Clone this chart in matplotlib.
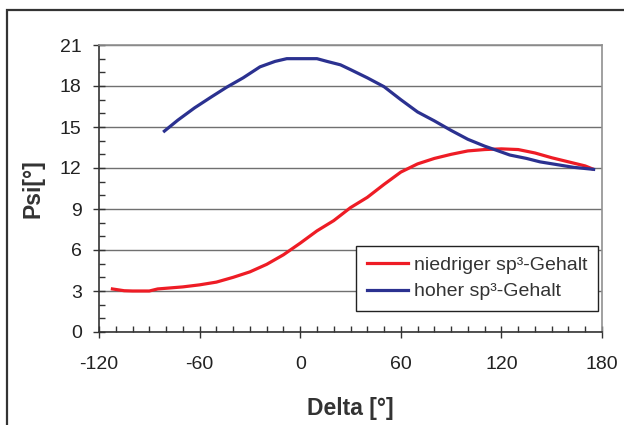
import matplotlib
matplotlib.use("Agg")
import matplotlib.pyplot as plt
from matplotlib.patches import Rectangle
from matplotlib.ticker import MultipleLocator

plt.rcParams['font.family'] = ['Liberation Sans', 'DejaVu Sans']

red_x = [-112, -105, -100, -90, -85, -80, -70, -60, -50, -40, -30, -20, -10, 0, 10, 20,
         30, 40, 50, 60, 70, 80, 90, 100, 110, 120, 130, 140, 150, 160, 170, 174]
red_y = [3.15, 3.02, 3.0, 3.0, 3.15, 3.2, 3.3, 3.45, 3.65, 4.0, 4.4, 4.95, 5.65, 6.5, 7.4, 8.15,
         9.1, 9.85, 10.8, 11.7, 12.3, 12.7, 13.0, 13.25, 13.35, 13.4, 13.35, 13.1, 12.75, 12.45, 12.15, 11.95]

blue_x = [-81, -73, -63, -53, -44, -34, -24, -15, -8, 0, 10, 16, 24, 30, 40, 50, 60, 70,
          80, 90, 100, 110, 117, 125, 135, 143, 153, 163, 175]
blue_y = [14.7, 15.5, 16.4, 17.2, 17.9, 18.6, 19.4, 19.8, 20.0, 20.0, 20.0, 19.8, 19.55, 19.2,
          18.6, 17.95, 17.0, 16.1, 15.45, 14.75, 14.1, 13.6, 13.3, 12.95, 12.7, 12.45, 12.25, 12.05, 11.9]

series_labels = ["niedriger sp³-Gehalt", "hoher sp³-Gehalt"]
x_ticks = [-120, -60, 0, 60, 120, 180]
y_ticks = [0, 3, 6, 9, 12, 15, 18, 21]

fig = plt.figure(figsize=(6.24, 4.25), dpi=100)
fig.patches.append(Rectangle((7/624, -0.2), 1.2, 1.2 - 10/425, transform=fig.transFigure,
                             fill=False, edgecolor='#333333', linewidth=1.6, zorder=0))

ax = fig.add_axes([99/624, 1 - 332/425, 503/624, 287/425])
ax.plot(red_x, red_y, color='#ee1c25', lw=2.3, label=series_labels[0], zorder=3)
ax.plot(blue_x, blue_y, color='#2b3190', lw=2.3, label=series_labels[1], zorder=3)

ax.set_xlim(-120, 180)
ax.set_ylim(0, 21)
ax.set_xticks(x_ticks)
ax.set_yticks(y_ticks)
ax.xaxis.set_minor_locator(MultipleLocator(10))
ax.yaxis.set_minor_locator(MultipleLocator(1))
ax.set_xticklabels([str(t) for t in x_ticks])
ax.set_yticklabels([str(t) for t in y_ticks])

ax.yaxis.grid(True, which='major', color='#707070', lw=1.0)
ax.set_axisbelow(True)

for s in ['top', 'right']:
    ax.spines[s].set_color('#909090')
    ax.spines[s].set_linewidth(1.2)
for s in ['left', 'bottom']:
    ax.spines[s].set_color('#333333')
    ax.spines[s].set_linewidth(1.2)

ax.tick_params(axis='both', which='major', direction='inout', length=9, width=1,
               color='#333333', labelsize=14, labelcolor='#222222')
ax.tick_params(axis='y', which='major', pad=8)
ax.tick_params(axis='x', which='major', pad=13)
ax.tick_params(axis='both', which='minor', direction='in', length=4, width=1, color='#333333')

ax.set_xlabel("Delta [°]", fontsize=16.5, fontweight='bold', color='#333333', labelpad=17)
ax.set_ylabel("Psi[°]", fontsize=16.5, fontweight='bold', color='#333333', labelpad=11)

leg = ax.legend(loc='lower right', bbox_to_anchor=(0.992, 0.073), borderaxespad=0,
                fontsize=14, frameon=True, fancybox=False, framealpha=1,
                edgecolor='#222222', handlelength=2.1, handletextpad=0.3,
                borderpad=0.55, labelspacing=0.45)
leg.get_frame().set_linewidth(1.0)
for t in leg.get_texts():
    t.set_color('#333333')

fig.savefig("out.png", dpi=100)
